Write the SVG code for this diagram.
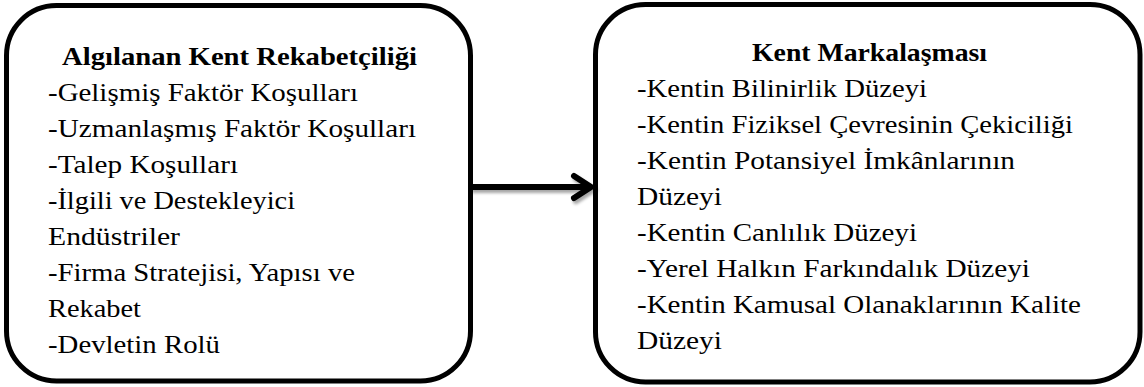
<svg xmlns="http://www.w3.org/2000/svg" width="1144" height="387" viewBox="0 0 1144 387">
<defs>
<style>
.box{fill:#fff;stroke:#000;stroke-width:5}
.t{font-family:"Liberation Serif","Times New Roman",serif;font-size:26px;fill:#000}
.b{font-weight:bold}
.arr{fill:none;stroke:#000;stroke-width:6}
</style>
<filter id="sh" x="-20%" y="-50%" width="140%" height="200%">
<feDropShadow dx="2" dy="3" stdDeviation="1.5" flood-color="#000" flood-opacity="0.35"/>
</filter>
</defs>
<rect width="1144" height="387" fill="#fff"/>
<g id="node-left">
<rect class="box" x="6.5" y="5.5" width="464" height="375.5" rx="50" ry="50"/>
<text class="t b" x="239.5" y="65" text-anchor="middle" textLength="355" lengthAdjust="spacingAndGlyphs">Algılanan Kent Rekabetçiliği</text>
<text class="t" x="48" y="101" textLength="310" lengthAdjust="spacingAndGlyphs">-Gelişmiş Faktör Koşulları</text>
<text class="t" x="48" y="137" textLength="368" lengthAdjust="spacingAndGlyphs">-Uzmanlaşmış Faktör Koşulları</text>
<text class="t" x="48" y="173" textLength="190" lengthAdjust="spacingAndGlyphs">-Talep Koşulları</text>
<text class="t" x="48" y="209" textLength="247" lengthAdjust="spacingAndGlyphs">-İlgili ve Destekleyici</text>
<text class="t" x="48" y="245" textLength="132" lengthAdjust="spacingAndGlyphs">Endüstriler</text>
<text class="t" x="48" y="281" textLength="307" lengthAdjust="spacingAndGlyphs">-Firma Stratejisi, Yapısı ve</text>
<text class="t" x="48" y="317" textLength="93" lengthAdjust="spacingAndGlyphs">Rekabet</text>
<text class="t" x="48" y="353" textLength="172" lengthAdjust="spacingAndGlyphs">-Devletin Rolü</text>
</g>
<g id="node-right">
<rect class="box" x="595.5" y="4.5" width="544.5" height="377.5" rx="50" ry="50"/>
<text class="t b" x="869.5" y="61" text-anchor="middle" textLength="235" lengthAdjust="spacingAndGlyphs">Kent Markalaşması</text>
<text class="t" x="637" y="97" textLength="290" lengthAdjust="spacingAndGlyphs">-Kentin Bilinirlik Düzeyi</text>
<text class="t" x="637" y="133" textLength="436" lengthAdjust="spacingAndGlyphs">-Kentin Fiziksel Çevresinin Çekiciliği</text>
<text class="t" x="637" y="169" textLength="378" lengthAdjust="spacingAndGlyphs">-Kentin Potansiyel İmkânlarının</text>
<text class="t" x="637" y="205" textLength="85" lengthAdjust="spacingAndGlyphs">Düzeyi</text>
<text class="t" x="637" y="241" textLength="280" lengthAdjust="spacingAndGlyphs">-Kentin Canlılık Düzeyi</text>
<text class="t" x="637" y="277" textLength="393" lengthAdjust="spacingAndGlyphs">-Yerel Halkın Farkındalık Düzeyi</text>
<text class="t" x="637" y="313" textLength="444" lengthAdjust="spacingAndGlyphs">-Kentin Kamusal Olanaklarının Kalite</text>
<text class="t" x="637" y="349" textLength="85" lengthAdjust="spacingAndGlyphs">Düzeyi</text>
</g>
<g id="connectors" filter="url(#sh)">
<line class="arr" x1="470" y1="187" x2="590" y2="187"/>
<polyline class="arr" points="574,176 591,187 574,198" stroke-linejoin="miter" stroke-linecap="round"/>
</g>
</svg>
